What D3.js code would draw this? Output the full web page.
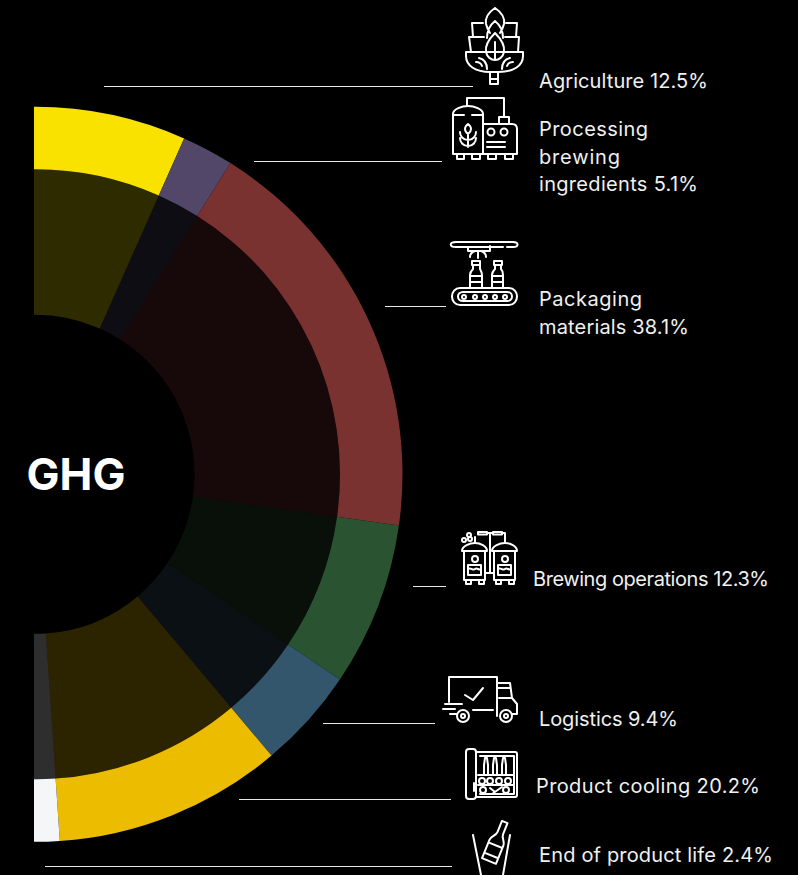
<!DOCTYPE html>
<html>
<head>
<meta charset="utf-8">
<script src="https://cdn.jsdelivr.net/npm/d3@7"></script>
<style>
  html, body { margin: 0; padding: 0; background: #000; }
  svg { display: block; }
</style>
</head>
<body>
<svg id="chart" width="798" height="875"></svg>
<script>
// label text and printed percentages
const categories = ['Agriculture', 'Processing brewing ingredients', 'Packaging materials', 'Brewing operations', 'Logistics', 'Product cooling', 'End of product life'];
const printedShare = ['12.5%', '5.1%', '38.1%', '12.3%', '9.4%', '20.2%', '2.4%'];
const drawnShare = [13.3, 4.55, 36.6, 14.4, 8.9, 20.1, 2.15];
const colors = ['#f9e200', '#524768', '#7a3230', '#2a5331', '#33566c', '#ecbc00', '#f4f6f8'];

const W = 798, H = 875;
const cx = 35, cy = 474.3;
const svg = d3.select('#chart').attr('viewBox', `0 0 ${W} ${H}`);

svg.append('clipPath').attr('id', 'half')
    .append('rect').attr('x', 34).attr('y', 0).attr('width', W).attr('height', H);

const pie = d3.pie().sort(null).startAngle(0).endAngle(Math.PI);
const slices = pie(drawnShare);

// the half ring runs a hair past the left edge, which is cut off straight
slices[0].startAngle = -0.02;
slices[slices.length - 1].endAngle = Math.PI + 0.02;

const ringOuter = d3.arc().innerRadius(305).outerRadius(367.5);
const ringInner = d3.arc().innerRadius(159.5).outerRadius(305);

const g = svg.append('g').attr('clip-path', 'url(#half)')
    .append('g').attr('transform', `translate(${cx},${cy})`);

g.selectAll('.outer').data(slices).join('path')
    .attr('class', 'outer')
    .attr('fill', (d, i) => colors[i])
    .attr('d', ringOuter);

g.selectAll('.inner').data(slices).join('path')
    .attr('class', 'inner')
    .attr('fill', (d, i) => colors[i])
    .attr('fill-opacity', 0.19)
    .attr('d', ringInner);

// centre title
svg.append('text')
    .attr('x', 26.5).attr('y', 490)
    .attr('fill', '#fff')
    .attr('font-family', 'Inter')
    .attr('font-weight', 700)
    .attr('font-size', 44)
    .text('GHG');

// leader lines, one per category: [x1, x2, y]
const leaders = [
    [104, 473, 86], [254, 442, 161], [385, 446, 306], [413, 446, 586],
    [323, 435, 723], [239, 451, 799], [45, 452, 866]
];
svg.selectAll('.leader').data(leaders).join('line')
    .attr('class', 'leader')
    .attr('x1', d => d[0]).attr('x2', d => d[1])
    .attr('y1', d => d[2] + 0.5).attr('y2', d => d[2] + 0.5)
    .attr('stroke', '#e8e8e8').attr('stroke-width', 1);

// wrapped labels: [x, first baseline, lines, width of each line]
const labelBreaks = [
    [539, 88, [`${categories[0]} ${printedShare[0]}`], [169]],
    [539, 136, ['Processing', 'brewing', `ingredients ${printedShare[1]}`], [109, 81, 159]],
    [539, 306, ['Packaging', `materials ${printedShare[2]}`], [103, 150]],
    [533, 586, [`${categories[3]} ${printedShare[3]}`], [236]],
    [539, 726, [`${categories[4]} ${printedShare[4]}`], [139]],
    [536, 793, [`${categories[5]} ${printedShare[5]}`], [224]],
    [539, 862, [`${categories[6]} ${printedShare[6]}`], [234]]
];
labelBreaks.forEach(([x, y, lines, widths]) => {
    const t = svg.append('text')
        .attr('fill', '#f0f0f0')
        .attr('font-family', 'Inter')
        .attr('font-weight', 400)
        .attr('font-size', 20);
    lines.forEach((line, i) => {
        t.append('tspan')
            .attr('x', x).attr('y', y + i * 27.5)
            .attr('textLength', widths[i]).attr('lengthAdjust', 'spacing')
            .text(line);
    });
});

// line icons
const icons = svg.append('g')
    .attr('fill', 'none').attr('stroke', '#fff').attr('stroke-width', 2)
    .attr('stroke-linejoin', 'round').attr('stroke-linecap', 'round');

const iconPaths = [
    // hop
    'M466 52H523V56C523 66 513 72 499 72H490C476 72 466 66 466 56Z M490 72V84H498V72 M491 79H498',
    'M471 52L469 37H484 M519 37L518 52 M505 37H519 M473 37L472 23H483 M517 23L516 37 M506 23H517',
    'M495 33C488 40 485 46 486 52C487 57 491 60 495 60C499 60 503 57 504 52C505 46 502 40 495 33Z M495 42V60',
    'M495 8C489 12 485 18 486 24C487 28 488 30 490 33 M495 8C501 12 505 18 504 24C503 28 502 30 500 33 M495 21C490 25 487 31 487 38 M495 21C500 25 503 31 503 38',
    'M487 69C487 62 483 59 479 58 M502 69C502 62 506 59 510 58 M482 66C481 63 479 62 476 62 M507 66C508 63 510 62 513 62',
    // processing
    'M453 154V114C453 109 462 106 468 106C474 106 483 109 483 114V154Z M453 115H464 M472 115H483',
    'M483 124H512C515 124 517 126 517 129V154H483 M499 123V117H509V123 M467 105V98H504V116',
    'M457 154V159H464V154 M472 154V159H480V154 M488 154V159H496V154 M505 154V159H513V154',
    'M487 142H505 M487 147H505',
    'M468 124C464 127 464 131 468 134C472 131 472 127 468 124Z M468 134V147 M468 140C463 140 460 136 460 132 M468 140C473 140 476 136 476 132 M468 146C463 146 460 142 460 138 M468 146C473 146 476 142 476 138',
    // conveyor
    'M503 247H456C449 247 449 242 456 242H513C519 242 519 247 513 247H507',
    'M468 247V251H490V246 M475 251C472 252 470 254 470 257 M481 251C484 252 486 254 486 257 M478 251V258',
    'M472 261H480V265 M472 261V265H480 M473 265V269C471 271 470 272 470 275V288 M480 265V269C481 271 482 272 482 275V288 M470 276H482 M470 282H482',
    'M494 261H502V265H494Z M495 265V269C493 271 492 272 492 275V288 M501 265V269C503 271 503 272 503 275V288 M492 276H503 M492 282H503',
    'M460 288H509C514 288 517 292 517 296.5C517 301 514 305 509 305H460C455 305 452 301 452 296.5C452 292 455 288 460 288Z',
    'M463 292H507C510 292 512 294 512 296.5C512 299 510 301 507 301H463C460 301 458 299 458 296.5C458 294 460 292 463 292Z',
    // brewing
    'M464 551V580H485V551 M462 551C462 546 470 543 475 543C480 543 487 546 487 551Z M466 580V584H471V580 M479 580V584H484V580',
    'M468 565H481V575H468Z M468 569C471 567 473 571 475 569C477 567 479 571 481 569',
    'M494 551V580H515V551 M492 551C492 546 500 543 505 543C510 543 517 546 517 551Z M496 580V584H501V580 M509 580V584H514V580',
    'M498 565H511V575H498Z M498 569C501 567 503 571 505 569C507 567 509 571 511 569',
    'M478 532H487V534.5H478Z M493 532H502V534.5H493Z M487 533H493 M490 533V573 M485 573H494 M502 533H505V543 M475 543V537',
    // truck
    'M449 702V677H497V716 M497 683H510L512 698L517 704V714H512 M498 688H510 M499 698H512 M473 710H493',
    'M445 704H462 M443 709H455 M450 714H457',
    'M465 695L473 700L483 688',
    // cooler
    'M476 752H515C516 752 517 753 517 754V795C517 796 516 797 515 797H476',
    'M469 749H473C475 749 476 750 476 752V796C476 798 475 799 473 799H469C467 799 466 798 466 796V752C466 750 467 749 469 749Z',
    'M480 756H514V794H480 M478 775H514 M478 785H514 M474 783V791',
    'M484 774V765L485 758H487L488 765V774 M493 774V765L494 758H496L497 765V774 M502 774V765L503 758H505L506 765V774',
    'M492 794L502 787 M490 788L495 792',
    // bottle in bucket
    'M473 835L481 875 M510 835L503 875'
];
icons.selectAll('.ic').data(iconPaths).join('path').attr('class', 'ic').attr('d', d => d);

// small circles of the icons: [x, y, r]
const iconDots = [
    [491, 132, 3.5], [504, 132, 3.5],
    [464, 297, 2], [475, 297, 2], [485, 297, 2], [495, 297, 2], [505, 297, 2],
    [475, 559, 3], [505, 559, 3], [469, 535, 2], [464, 540, 2], [470, 539, 2],
    [463, 716, 6], [463, 716, 2], [506, 716, 6], [506, 716, 2],
    [482, 781, 3], [490, 781, 3], [499, 781, 3], [508, 781, 3], [483, 790, 3], [506, 790, 3]
];
icons.selectAll('.dot').data(iconDots).join('circle').attr('class', 'dot')
    .attr('cx', d => d[0]).attr('cy', d => d[1]).attr('r', d => d[2]);

// tilted bottle
icons.append('path')
    .attr('transform', 'translate(489,861) rotate(22)')
    .attr('d', 'M-7.5 0V-20C-7.5 -24 -3 -26 -3 -30V-42H3V-30C3 -26 7.5 -24 7.5 -20V0Z M-7.5 -6H7.5 M-7.5 -17H7.5');
</script>
</body>
</html>
